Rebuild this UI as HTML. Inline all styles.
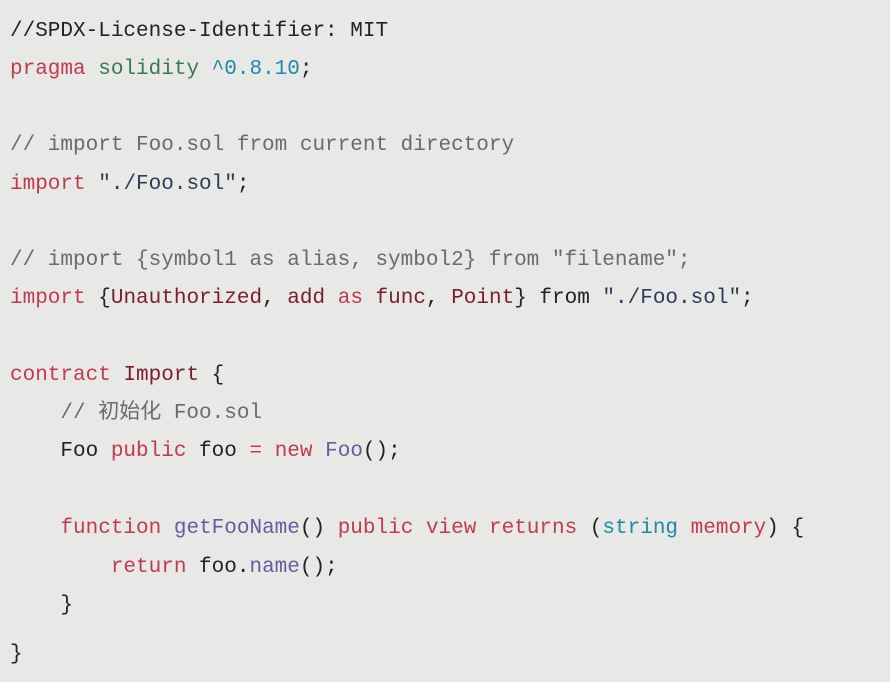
<!DOCTYPE html>
<html><head><meta charset="utf-8"><style>
body{margin:0;width:890px;height:682px;background:#e8e8e6;overflow:hidden}
.l{position:absolute;left:10px;height:38px;line-height:38px;font-family:"Liberation Mono","Noto Sans CJK SC",monospace;font-size:21px;color:#222;white-space:pre}
.k{color:#c23a4e}.g{color:#3a7a4a}.c{color:#1b8aa8}.s{color:#2c3a5c}.cm{color:#6a6a6a}.f{color:#6a5a9c}.d{color:#7a1e2c}
</style></head><body>
<div class="l" style="top:13px">//SPDX-License-Identifier: MIT</div>
<div class="l" style="top:51px"><span class="k">pragma</span> <span class="g">solidity</span> <span class="c">^0.8.10</span>;</div>
<div class="l cm" style="top:127px">// import Foo.sol from current directory</div>
<div class="l" style="top:166px"><span class="k">import</span> <span class="s">"./Foo.sol"</span>;</div>
<div class="l cm" style="top:242px">// import {symbol1 as alias, symbol2} from "filename";</div>
<div class="l" style="top:280px"><span class="k">import</span> {<span class="d">Unauthorized</span>, <span class="d">add</span> <span class="k">as</span> <span class="d">func</span>, <span class="d">Point</span>} from <span class="s">"./Foo.sol"</span>;</div>
<div class="l" style="top:357px"><span class="k">contract</span> <span class="d">Import</span> {</div>
<div class="l cm" style="top:395px">    // 初始化 Foo.sol</div>
<div class="l" style="top:433px">    Foo <span class="k">public</span> foo <span class="k">=</span> <span class="k">new</span> <span class="f">Foo</span>();</div>
<div class="l" style="top:510px">    <span class="k">function</span> <span class="f">getFooName</span>() <span class="k">public</span> <span class="k">view</span> <span class="k">returns</span> (<span class="c">string</span> <span class="k">memory</span>) {</div>
<div class="l" style="top:549px">        <span class="k">return</span> foo.<span class="f">name</span>();</div>
<div class="l" style="top:587px">    }</div>
<div class="l" style="top:636px">}</div>
</body></html>
